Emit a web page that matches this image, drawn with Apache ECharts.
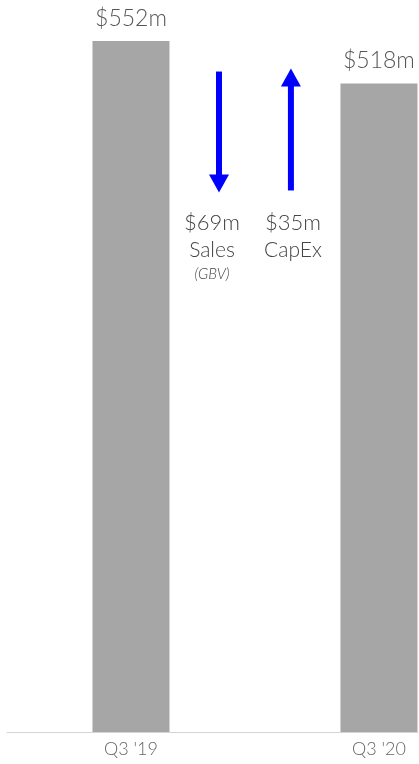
<!DOCTYPE html>
<html>
<head>
<meta charset="utf-8">
<script src="https://cdn.jsdelivr.net/npm/echarts@6/dist/echarts.min.js"></script>
<style>
  html, body { margin: 0; padding: 0; background: #ffffff; }
  #chart { width: 419px; height: 764px; }
</style>
</head>
<body>
<div id="chart"></div>
<script>
// Gross book value at each quarter end ($m)
const quarters = ["Q3 '19", "Q3 '20"];
const bookValues = [552, 518];

// Movements between the two quarters ($m): negative = outflow, positive = inflow
const moveNames = ['Sales', 'CapEx'];
const moveValues = [-69, 35];
const moveNotes = ['(GBV)', ''];

const FONT = 'Lato, "Open Sans", sans-serif';
const ARROW_BLUE = '#0000ff';
// vertical span of the movement arrows, in axis units
const ARROW_TOP = 530;
const ARROW_BOTTOM = 431;
// horizontal slots: quarters sit at 1 and 3, movements either side of 2
const quarterSlot = i => 1 + 2 * i;
const moveSlots = [1.71, 2.29];

const chart = echarts.init(document.getElementById('chart'), null, { renderer: 'canvas' });

function renderArrow(params, api) {
  const i = params.dataIndex;
  const value = moveValues[i];
  const x = api.coord([api.value(0), ARROW_TOP])[0];
  const yTop = api.coord([api.value(0), ARROW_TOP])[1];
  const yBot = api.coord([api.value(0), ARROW_BOTTOM])[1];
  const headH = 18, headW = 20, shaftW = 6;
  let shaft, head;
  if (value < 0) {
    shaft = { x: x - shaftW / 2, y: yTop + 3, width: shaftW, height: (yBot - headH) - (yTop + 3) + 1 };
    head = [[x - headW / 2, yBot - headH], [x + headW / 2, yBot - headH], [x, yBot]];
  } else {
    shaft = { x: x - shaftW / 2, y: yTop + headH - 1, width: shaftW, height: (yBot - 2) - (yTop + headH) + 1 };
    head = [[x - headW / 2, yTop + headH], [x + headW / 2, yTop + headH], [x, yTop]];
  }
  const amount = '$' + Math.abs(value) + 'm';
  let text = '{v|' + amount + '}\n{n|' + moveNames[i] + '}';
  if (moveNotes[i]) text += '\n{s|' + moveNotes[i] + '}';
  const dx = value < 0 ? -7 : 2;
  return {
    type: 'group',
    children: [
      { type: 'rect', shape: shaft, style: { fill: ARROW_BLUE } },
      { type: 'polygon', shape: { points: head }, style: { fill: ARROW_BLUE } },
      {
        type: 'text',
        x: x + dx,
        y: yBot + 16,
        style: {
          text: text,
          align: 'center',
          verticalAlign: 'top',
          fill: '#444',
          fontFamily: FONT,
          rich: {
            v: { fontSize: 22, fontWeight: 300, lineHeight: 28, fontFamily: FONT, fill: '#444', align: 'center' },
            n: { fontSize: 21, fontWeight: 300, lineHeight: 27, fontFamily: FONT, fill: '#444', align: 'center' },
            s: { fontSize: 15, fontWeight: 300, lineHeight: 22, fontStyle: 'italic', fontFamily: FONT, fill: '#444', align: 'center' }
          }
        }
      }
    ]
  };
}

chart.setOption({
  animation: false,
  backgroundColor: '#ffffff',
  grid: { left: 7, right: 1, top: 41, bottom: 32 },
  xAxis: {
    type: 'value',
    min: 0,
    max: 3.315,
    interval: 1,
    splitLine: { show: false },
    axisLine: { show: true, onZero: false, lineStyle: { color: '#d4d4d4', width: 1 } },
    axisTick: { show: false },
    axisLabel: {
      color: '#666',
      fontSize: 18,
      fontWeight: 300,
      fontFamily: FONT,
      margin: 8,
      showMinLabel: true,
      showMaxLabel: false,
      formatter: v => {
        const i = quarters.findIndex((q, k) => Math.abs(quarterSlot(k) - v) < 1e-6);
        return i >= 0 ? quarters[i] : '';
      }
    }
  },
  yAxis: { type: 'value', min: 0, max: 552, show: false },
  series: [
    {
      type: 'bar',
      data: bookValues.map((v, i) => [quarterSlot(i), v]),
      barWidth: 77,
      itemStyle: { color: '#a6a6a6' },
      label: {
        show: true,
        position: 'top',
        distance: 11,
        formatter: p => '$' + p.value[1] + 'm',
        color: '#555',
        fontSize: 23,
        fontWeight: 300,
        fontFamily: FONT
      }
    },
    {
      type: 'custom',
      data: moveValues.map((v, i) => [moveSlots[i], v]),
      renderItem: renderArrow
    }
  ]
});
</script>
</body>
</html>
